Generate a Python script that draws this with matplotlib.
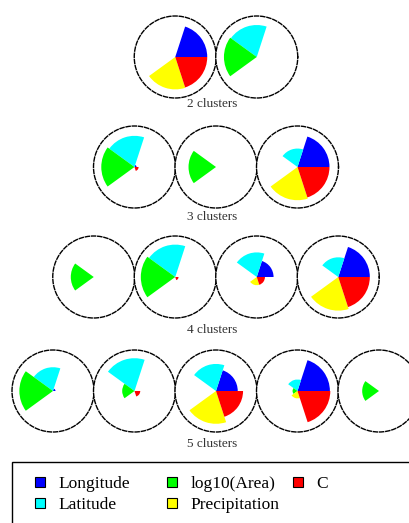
import numpy as np
import matplotlib
matplotlib.use("Agg")
import matplotlib.pyplot as plt
from matplotlib.patches import Rectangle, Patch

plt.rcParams["font.family"] = "Liberation Serif"

features = ['Longitude', 'Latitude', 'log10(Area)', 'Precipitation', 'C']
colors = ['#0000ff', '#00ffff', '#00ff00', '#ffff00', '#ff0000']

# radius of each sector per cluster (order as in features)
k2 = [[0.78, 0.00, 0.00, 0.79, 0.78],
      [0.00, 0.78, 0.80, 0.00, 0.00]]
k3 = [[0.05, 0.76, 0.81, 0.00, 0.10],
      [0.00, 0.00, 0.67, 0.00, 0.00],
      [0.78, 0.45, 0.00, 0.81, 0.78]]
k4 = [[0.00, 0.00, 0.56, 0.00, 0.00],
      [0.00, 0.79, 0.84, 0.00, 0.08],
      [0.41, 0.60, 0.00, 0.20, 0.20],
      [0.77, 0.48, 0.00, 0.82, 0.77]]
k5 = [[0.06, 0.58, 0.82, 0.00, 0.00],
      [0.00, 0.80, 0.30, 0.00, 0.14],
      [0.53, 0.66, 0.00, 0.80, 0.66],
      [0.79, 0.28, 0.12, 0.18, 0.80],
      [0.00, 0.00, 0.41, 0.00, 0.00]]
row_labels = ['2 clusters', '3 clusters', '4 clusters', '5 clusters']

W, H = 410, 523
fig = plt.figure(figsize=(W / 100, H / 100), dpi=100)

R = 41
step = 81.5
xc = 216
row_y = [57, 167, 277, 391]
label_y = [104, 217, 330, 444]

n = len(features)
theta = np.arange(n) * 2 * np.pi / n + np.pi / n
width = 2 * np.pi / n

for r, clusters in enumerate([k2, k3, k4, k5]):
    k = len(clusters)
    cy = row_y[r]
    for i, vals in enumerate(clusters):
        cx = xc + (i - (k - 1) / 2) * step
        ax = fig.add_axes([(cx - R) / W, 1 - (cy + R) / H, 2 * R / W, 2 * R / H],
                          projection='polar')
        ax.bar(theta, vals, width=width, bottom=0, color=colors, linewidth=0)
        ax.set_ylim(0, 1)
        ax.set_xticks([])
        ax.set_yticks([])
        ax.grid(False)
        ax.spines['polar'].set_linestyle((0, (3, 1.5)))
        ax.spines['polar'].set_linewidth(1.0)
    fig.text(212 / W, 1 - label_y[r] / H, row_labels[r], ha='center', va='center',
             fontsize=9.5, color='#333333')

# legend box
fig.patches.append(Rectangle((12 / W, 1 - 530 / H), 410 / W, 68 / H,
                             transform=fig.transFigure, fill=False,
                             edgecolor='black', linewidth=1.0))

handles = [Patch(facecolor=c, edgecolor='black', linewidth=0.8) for c in colors]
columns = [[0, 1], [2, 3], [4]]
col_x = [35, 167, 293]
for idx, x in zip(columns, col_x):
    fig.legend([handles[j] for j in idx], [features[j] for j in idx],
               loc='upper left', bbox_to_anchor=(x / W, 1 - 476 / H),
               frameon=False, fontsize=12.5, borderpad=0, borderaxespad=0,
               handlelength=0.6, handleheight=0.55, handletextpad=0.75,
               labelspacing=0.3)

fig.savefig('out.png', dpi=100)
